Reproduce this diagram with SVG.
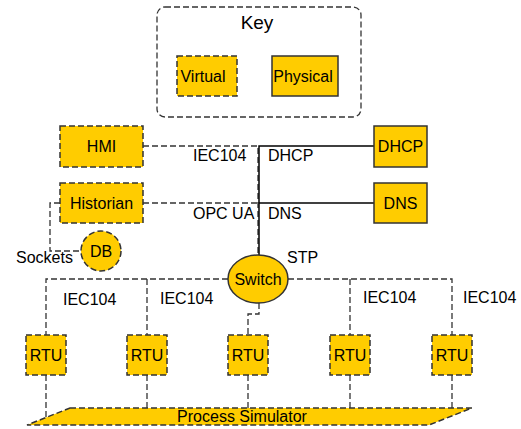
<svg xmlns="http://www.w3.org/2000/svg" width="521" height="429" viewBox="0 0 521 429">
<style>
text{font-family:"Liberation Sans",Arial,sans-serif;font-size:16px;fill:#000}
.v{fill:#ffcc00;stroke:#333;stroke-width:1.5;stroke-dasharray:6 3}
.p{fill:#ffcc00;stroke:#333;stroke-width:1.5}
.d{fill:none;stroke:#333;stroke-width:1.3;stroke-dasharray:6 3}
.s{fill:none;stroke:#000;stroke-width:1.5}
.c{text-anchor:middle}
</style>
<rect width="521" height="429" fill="#fff"/>
<g id="key">
<rect x="157" y="7" width="204" height="110" rx="8" fill="none" stroke="#333" stroke-width="1.3" stroke-dasharray="6 3"/>
<text x="257" y="29" class="c" style="font-size:19px">Key</text>
<rect class="v" x="177" y="56" width="60" height="40"/>
<text x="203" y="82" class="c">Virtual</text>
<rect class="p" x="272" y="56" width="66" height="40"/>
<text x="303" y="82" class="c">Physical</text>
</g>
<g id="connectors">
<path class="d" d="M143 146H258V256"/>
<path class="d" d="M143 203H258"/>
<path class="s" d="M374 146H259V256"/>
<path class="s" d="M374 203H259"/>
<path class="d" d="M60 203H50V251H81"/>
<path class="d" d="M228 279H46V335M147 279V335"/>
<path class="d" d="M288 279H452V335M350 279V335"/>
<path class="d" d="M259 303V314H248V335"/>
<path class="d" d="M46 375V424M147 375V408M248 375V408M350 375V408M452 375V408"/>
<text x="193" y="161">IEC104</text>
<text x="268" y="161">DHCP</text>
<text x="193" y="219">OPC UA</text>
<text x="268" y="219">DNS</text>
<text x="16" y="263">Sockets</text>
<text x="287" y="263">STP</text>
<text x="63" y="305">IEC104</text>
<text x="160" y="304">IEC104</text>
<text x="363" y="303">IEC104</text>
<text x="463" y="303">IEC104</text>
</g>
<g id="hmi"><rect class="v" x="60" y="126" width="83" height="41"/><text x="101.5" y="152" class="c">HMI</text></g>
<g id="historian"><rect class="v" x="60" y="183" width="83" height="40"/><text x="101.5" y="209" class="c">Historian</text></g>
<g id="dhcp"><rect class="p" x="374" y="126" width="53" height="41"/><text x="400.5" y="152" class="c">DHCP</text></g>
<g id="dns"><rect class="p" x="374" y="183" width="53" height="40"/><text x="400.5" y="209" class="c">DNS</text></g>
<g id="db"><circle class="v" cx="101" cy="251" r="20"/><text x="101" y="257" class="c">DB</text></g>
<g id="switch"><ellipse class="p" cx="258" cy="279" rx="30" ry="24"/><text x="258" y="285" class="c">Switch</text></g>
<g id="rtu1"><rect class="v" x="26" y="335" width="40" height="40"/><text x="46" y="361" class="c">RTU</text></g>
<g id="rtu2"><rect class="v" x="127" y="335" width="40" height="40"/><text x="147" y="361" class="c">RTU</text></g>
<g id="rtu3"><rect class="v" x="228" y="335" width="40" height="40"/><text x="248" y="361" class="c">RTU</text></g>
<g id="rtu4"><rect class="v" x="330" y="335" width="40" height="40"/><text x="350" y="361" class="c">RTU</text></g>
<g id="rtu5"><rect class="v" x="432" y="335" width="40" height="40"/><text x="452" y="361" class="c">RTU</text></g>
<g id="process-simulator"><polygon class="v" points="70,408 472,408 429,425 27,425"/><text x="242" y="422" class="c">Process Simulator</text></g>
</svg>
